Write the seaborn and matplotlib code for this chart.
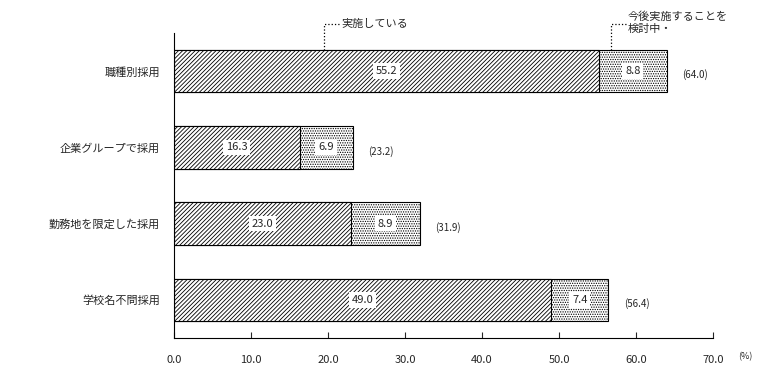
import numpy as np
import pandas as pd
import matplotlib
matplotlib.use('Agg')
import matplotlib.pyplot as plt
import seaborn as sns

categories = ['職種別採用', '企業グループで採用', '勤務地を限定した採用', '学校名不問採用']
implemented = [55.2, 16.3, 23.0, 49.0]
considering = [8.8, 6.9, 8.9, 7.4]
totals = [64.0, 23.2, 31.9, 56.4]
xticks = [0, 10, 20, 30, 40, 50, 60, 70]

sns.set_theme(style='white')
plt.rcParams['font.family'] = ['Noto Sans CJK JP', 'DejaVu Sans']
plt.rcParams['hatch.linewidth'] = 0.6

df = pd.DataFrame({'cat': categories, 'impl': implemented, 'total': totals})

fig = plt.figure(figsize=(7.82, 3.71), dpi=100)
ax = fig.add_axes([174/782, (371-338)/371, (713-174)/782, (338-33)/371])

sns.barplot(data=df, y='cat', x='total', orient='h', color='white', edgecolor='black',
            linewidth=0.8, width=0.56, ax=ax)
sns.barplot(data=df, y='cat', x='impl', orient='h', color='white', edgecolor='black',
            linewidth=0.8, width=0.56, ax=ax)
n = len(categories)
for i, p in enumerate(ax.patches):
    p.set_hatch('.......' if i < n else '////////')

fs = 8
for i in range(n):
    ax.text(implemented[i] / 2, i, f'{implemented[i]:.1f}', ha='center', va='center', fontsize=fs,
            bbox=dict(facecolor='white', edgecolor='none', pad=2))
    ax.text(implemented[i] + considering[i] / 2, i, f'{considering[i]:.1f}', ha='center', va='center',
            fontsize=fs, bbox=dict(facecolor='white', edgecolor='none', pad=2))
    ax.text(totals[i] + 2.0, i + 0.05, f'({totals[i]:.1f})', ha='left', va='center', fontsize=7)

# leader lines
ax.plot([19.5, 19.5, 21.5], [-0.28, -0.62, -0.62], ls=':', color='black', lw=0.9, clip_on=False)
ax.text(21.8, -0.62, '実施している', ha='left', va='center', fontsize=fs)
ax.plot([56.7, 56.7, 58.7], [-0.28, -0.62, -0.62], ls=':', color='black', lw=0.9, clip_on=False)
ax.text(58.9, -0.71, '今後実施することを', ha='left', va='center', fontsize=fs)
ax.text(58.9, -0.55, '検討中・', ha='left', va='center', fontsize=fs)

ax.set_xlim(0, 70)
ax.set_ylim(3.5, -0.5)
ax.set_xticks(xticks)
ax.set_xticklabels([f'{v:.1f}' for v in xticks], fontsize=fs)
ax.set_yticks(range(n))
ax.set_yticklabels(categories, fontsize=fs)
ax.set_yticks([-0.5, 0.5, 1.5, 2.5, 3.5], minor=True)
ax.tick_params(axis='y', which='major', length=0, pad=10)
ax.tick_params(axis='y', which='minor', direction='in', length=4, width=0.8)
ax.tick_params(axis='x', direction='in', length=4, width=0.8, pad=12, bottom=True)
ax.set_xlabel('')
ax.set_ylabel('')
for s in ['top', 'right']:
    ax.spines[s].set_visible(False)
for s in ['left', 'bottom']:
    ax.spines[s].set_color('black')
    ax.spines[s].set_linewidth(0.8)
ax.text(1.06, -0.06, '(%)', transform=ax.transAxes, fontsize=6.5, ha='center', va='center')

fig.savefig('out.png', dpi=100)
